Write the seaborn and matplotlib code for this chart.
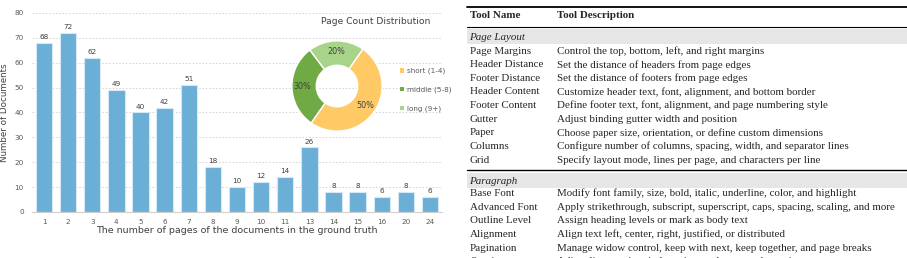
import matplotlib
matplotlib.use("Agg")
import matplotlib.pyplot as plt
from matplotlib.patches import Patch, Rectangle
from matplotlib.lines import Line2D
import seaborn as sns
import pandas as pd

# ---------------- data ----------------
pages = ['1', '2', '3', '4', '5', '6', '7', '8', '9', '10', '11', '13', '14', '15', '16', '20', '24']
counts = [68, 72, 62, 49, 40, 42, 51, 18, 10, 12, 14, 26, 8, 8, 6, 8, 6]

donut_labels = ['short (1-4)', 'middle (5-8)', 'long (9+)']
donut_shares = [50, 30, 20]
donut_colors = ['#FFCA66', '#6FAA44', '#A8D48A']

section1 = 'Page Layout'
names1 = ['Page Margins', 'Header Distance', 'Footer Distance', 'Header Content',
          'Footer Content', 'Gutter', 'Paper', 'Columns', 'Grid']
descs1 = ['Control the top, bottom, left, and right margins',
          'Set the distance of headers from page edges',
          'Set the distance of footers from page edges',
          'Customize header text, font, alignment, and bottom border',
          'Define footer text, font, alignment, and page numbering style',
          'Adjust binding gutter width and position',
          'Choose paper size, orientation, or define custom dimensions',
          'Configure number of columns, spacing, width, and separator lines',
          'Specify layout mode, lines per page, and characters per line']
section2 = 'Paragraph'
names2 = ['Base Font', 'Advanced Font', 'Outline Level', 'Alignment', 'Pagination', 'Spacing']
descs2 = ['Modify font family, size, bold, italic, underline, color, and highlight',
          'Apply strikethrough, subscript, superscript, caps, spacing, scaling, and more',
          'Assign heading levels or mark as body text',
          'Align text left, center, right, justified, or distributed',
          'Manage widow control, keep with next, keep together, and page breaks',
          'Adjust line spacing, indentation, and paragraph spacing']
header = ['Tool Name', 'Tool Description']

# ---------------- figure ----------------
sns.set_theme(style="white")
plt.rcParams['font.family'] = ['DejaVu Sans']
W, H = 907, 258
fig = plt.figure(figsize=(W / 100, H / 100), dpi=100)

def fx(px):
    return px / W

def fy(py):
    return 1 - py / H

# bar chart
ax = fig.add_axes([fx(32), fy(212), fx(442) - fx(32), fy(13) - fy(212)])
df = pd.DataFrame({'pages': pages, 'count': counts})
sns.barplot(data=df, x='pages', y='count', order=pages, color='#6BAED6',
            saturation=1, width=0.68, edgecolor='#D6E8F5', linewidth=0.8, ax=ax)
ax.set_ylim(0, 80)
ax.set_xlim(-0.5, len(pages) - 0.5)
ax.set_yticks(range(0, 81, 10))
ax.yaxis.grid(True, linestyle=(0, (2, 2)), color='#D0D0D0', linewidth=0.6)
ax.set_axisbelow(True)
for s in ['top', 'right', 'left']:
    ax.spines[s].set_visible(False)
ax.spines['bottom'].set_color('#D0D0D0')
ax.spines['bottom'].set_linewidth(0.8)
ax.tick_params(axis='y', length=0, labelsize=5.2, labelcolor='#595959', pad=6)
ax.tick_params(axis='x', which='major', length=0, labelsize=5.2, labelcolor='#595959', pad=5)
ax.set_xticks([i + 0.5 for i in range(-1, len(pages))], minor=True)
ax.tick_params(axis='x', which='minor', length=3, color='#D0D0D0', width=0.7)
for c in ax.containers:
    ax.bar_label(c, fontsize=5.2, color='#404040', padding=2)
ax.set_xlabel('The number of pages of the documents in the ground truth',
              fontsize=6.8, color='#404040', labelpad=1)
ax.set_ylabel('Number of Documents', fontsize=6.3, color='#404040', labelpad=4)

# donut
ax2 = fig.add_axes([fx(291), fy(132), fx(383) - fx(291), fy(40) - fy(132)])
wedges, texts, autotexts = ax2.pie(donut_shares, colors=donut_colors, startangle=55,
                                   counterclock=False, radius=1.0,
                                   wedgeprops=dict(width=0.54, edgecolor='white', linewidth=1.0),
                                   autopct='%d%%', pctdistance=0.76,
                                   textprops=dict(fontsize=5.8, color='#404040'))
ax2.set_xlim(-1.02, 1.02)
ax2.set_ylim(-1.02, 1.02)
ax2.set_aspect('equal')
ax2.axis('off')
fig.text(fx(376), fy(22), 'Page Count Distribution', ha='center', va='center',
         fontsize=6.6, color='#404040')
handles = [Patch(facecolor=c, edgecolor='none') for c in donut_colors]
fig.legend(handles, donut_labels, loc='center left', bbox_to_anchor=(fx(397), fy(90)),
           frameon=False, fontsize=5.2, labelcolor='#595959', handlelength=0.55,
           handleheight=0.55, handletextpad=0.4, labelspacing=1.7, borderaxespad=0)

# ---------------- table ----------------
serif = ['Liberation Serif', 'DejaVu Serif']
TS = 7.9
x0, x1, xc = 467, 907, 557
xt = 470
fig.add_artist(Line2D([fx(x0), fx(x1)], [fy(7), fy(7)], color='black', lw=1.3))
fig.text(fx(xt), fy(16), header[0], fontsize=TS, fontweight='bold', family=serif, va='center')
fig.text(fx(xc), fy(16), header[1], fontsize=TS, fontweight='bold', family=serif, va='center')
fig.add_artist(Line2D([fx(x0), fx(x1)], [fy(26.5), fy(26.5)], color='black', lw=0.8))

step = 13.65

def band(ytop, ybot):
    fig.add_artist(Rectangle((fx(x0), fy(ybot)), fx(x1) - fx(x0), fy(ytop) - fy(ybot),
                             facecolor='#E6E6E6', edgecolor='none', transform=fig.transFigure))

band(29, 44)
fig.text(fx(xt - 1), fy(37), section1, fontsize=TS, style='italic', family=serif, va='center')
y = 51
for n, d in zip(names1, descs1):
    fig.text(fx(xt), fy(y), n, fontsize=TS, family=serif, va='center')
    fig.text(fx(xc), fy(y), d, fontsize=TS, family=serif, va='center')
    y += step
fig.add_artist(Line2D([fx(x0), fx(x1)], [fy(169.5), fy(169.5)], color='black', lw=1.0))
band(173, 188)
fig.text(fx(xt - 1), fy(181), section2, fontsize=TS, style='italic', family=serif, va='center')
y = 193.5
for n, d in zip(names2, descs2):
    fig.text(fx(xt), fy(y), n, fontsize=TS, family=serif, va='center')
    fig.text(fx(xc), fy(y), d, fontsize=TS, family=serif, va='center')
    y += step

fig.savefig('out.png', dpi=100)
